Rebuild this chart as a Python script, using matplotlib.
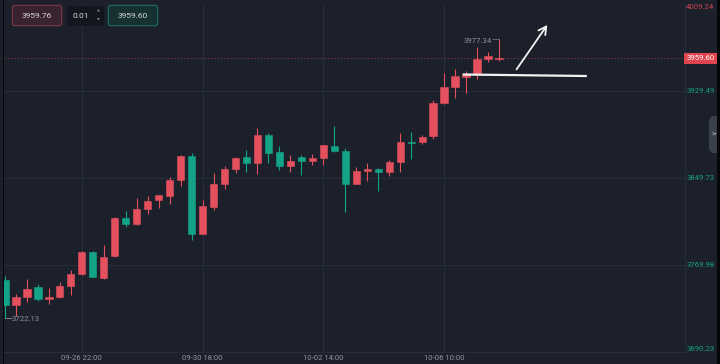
import matplotlib
matplotlib.use("Agg")
import matplotlib.pyplot as plt
from matplotlib.patches import Rectangle, FancyBboxPatch, Polygon
from matplotlib.transforms import blended_transform_factory

plt.rcParams['font.family'] = ['Roboto', 'DejaVu Sans']

# ---------------- data (4H candles) ----------------
opens = [3756.5, 3733.3, 3741.2, 3750.3, 3739.1, 3741.2, 3751.0, 3761.7, 3782.4, 3758.0,
         3778.2, 3813.6, 3807.5, 3821.6, 3829.8, 3833.5, 3848.2, 3870.2, 3798.9, 3823.1,
         3844.5, 3858.5, 3869.5, 3863.5, 3889.4, 3873.6, 3861.0, 3869.0, 3865.6, 3868.3,
         3879.6, 3875.0, 3844.5, 3856.4, 3858.5, 3855.2, 3864.9, 3883.3, 3882.7, 3888.8,
         3918.5, 3933.1, 3942.9, 3945.0, 3959.1, 3958.7]
highs = [3760.4, 3743.4, 3757.4, 3752.8, 3748.9, 3754.9, 3765.6, 3783.0, 3783.0, 3788.6,
         3814.5, 3820.0, 3831.4, 3833.5, 3834.6, 3851.2, 3870.8, 3872.6, 3829.8, 3854.9,
         3861.0, 3869.0, 3875.7, 3895.6, 3891.0, 3879.3, 3871.1, 3870.8, 3872.0, 3880.3,
         3897.6, 3877.2, 3859.8, 3864.0, 3858.8, 3866.5, 3891.0, 3892.2, 3889.1, 3921.5,
         3946.0, 3950.2, 3948.1, 3970.4, 3965.8, 3977.34]
lows = [3722.13, 3723.5, 3736.3, 3737.5, 3734.2, 3739.7, 3742.4, 3761.0, 3759.0, 3757.1,
        3777.5, 3805.3, 3806.6, 3816.7, 3822.7, 3825.9, 3842.9, 3793.1, 3798.3, 3820.6,
        3839.9, 3854.9, 3855.8, 3853.7, 3864.0, 3857.3, 3855.2, 3853.0, 3861.9, 3861.9,
        3874.1, 3819.1, 3844.2, 3847.5, 3838.3, 3851.8, 3855.5, 3867.1, 3880.9, 3885.5,
        3918.2, 3923.1, 3927.6, 3941.0, 3956.6, 3957.5]
closes = [3733.3, 3741.2, 3748.5, 3738.8, 3741.2, 3751.0, 3761.7, 3782.4, 3759.5, 3777.8,
          3813.6, 3807.5, 3821.6, 3828.9, 3834.1, 3848.2, 3870.2, 3798.9, 3824.3, 3844.5,
          3858.5, 3868.6, 3863.5, 3889.4, 3873.2, 3861.0, 3865.9, 3865.3, 3868.1, 3880.0,
          3874.8, 3844.5, 3856.4, 3858.5, 3855.2, 3864.9, 3883.3, 3881.8, 3887.3, 3918.5,
          3933.1, 3943.5, 3945.0, 3958.8, 3961.8, 3959.60]

xtick_pos = [7, 18, 29, 40]
xtick_labels = ['09-26 22:00', '09-30 18:00', '10-02 14:00', '10-06 10:00']
ytick_vals = [3690.23, 3769.98, 3849.73, 3929.49, 4009.24]
ytick_labels = ['3690.23', '3769.98', '3849.73', '3929.49', '4009.24']
last_price = 3959.60
sell_price, buy_price, lot = '3959.76', '3959.60', '0.01'
high_idx, high_val = 45, 3977.34
low_idx, low_val = 0, 3722.13
# hand-drawn annotations (index, price)
hline_x, hline_y = [41.7, 53.0], [3944.9, 3943.5]
arrow_from, arrow_to = (46.6, 3949.6), (49.4, 3990.3)

# ---------------- style ----------------
BG = '#1b202b'
GRID = '#272d3a'
UP = '#e4505d'
DOWN = '#13a487'
TXT = '#8f949e'

W, H = 720, 364
fig = plt.figure(figsize=(W / 100, H / 100), dpi=100, facecolor=BG)
ax = fig.add_axes([4 / W, (H - 352.3) / H, 680.5 / W, 348 / H], facecolor=BG)
ax.set_xlim(-0.09, 61.9)
ax.set_ylim(3690.23, 4009.24)

for v in ytick_vals[1:4]:
    ax.axhline(v, color=GRID, lw=0.7, zorder=0)
for p in xtick_pos:
    ax.axvline(p, color=GRID, lw=0.7, zorder=0)

for i, (o, h, l, c) in enumerate(zip(opens, highs, lows, closes)):
    col = UP if c >= o else DOWN
    ax.vlines(i, l, h, color=col, lw=0.8, zorder=2)
    ax.bar(i, abs(c - o), bottom=min(o, c), width=0.66, color=col,
           edgecolor=col, lw=0.4, zorder=3)

ax.axhline(last_price, color='#8a3d48', ls=(0, (1, 2)), lw=0.8, zorder=1)

# high / low markers
ax.plot([high_idx, high_idx - 0.62], [high_val, high_val], color=TXT, lw=0.6, ls=(0, (2, 1)), zorder=4)
ax.text(high_idx - 0.66, high_val - 1.5, f'{high_val:.2f}', color=TXT, fontsize=5.6,
        ha='right', va='center', zorder=5)
ax.plot([low_idx, low_idx + 0.55], [low_val, low_val], color=TXT, lw=0.6, zorder=4)
ax.text(low_idx + 0.64, low_val - 1.8, f'{low_val:.2f}', color=TXT, fontsize=5.6,
        ha='left', va='center', zorder=5)

# white drawings
ax.plot(hline_x, hline_y, color='#f2f2f2', lw=1.6, solid_capstyle='butt', zorder=6)
ax.annotate('', xy=arrow_to, xytext=arrow_from,
            arrowprops=dict(arrowstyle='->,head_length=0.55,head_width=0.3',
                            color='#f2f2f2', lw=1.3, shrinkA=0, shrinkB=0), zorder=6)

# axes
ax.set_xticks(xtick_pos, xtick_labels)
ax.set_yticks([])
ax.tick_params(axis='x', length=0, pad=2.2, labelsize=5.6, labelcolor=TXT)
for s in ['top', 'left']:
    ax.spines[s].set_visible(False)
for s in ['right', 'bottom']:
    ax.spines[s].set_color(GRID)
    ax.spines[s].set_linewidth(0.8)

bt = blended_transform_factory(ax.transAxes, ax.transData)
for v, lab in zip(ytick_vals, ytick_labels):
    if v == ytick_vals[-1]:
        va, col = 'top', '#c9434f'
    elif v == ytick_vals[0]:
        va, col = 'bottom', '#17a083'
    else:
        va, col = 'center', '#17a083'
    ax.text(1.0025, v, lab, transform=bt, color=col, fontsize=5.6, ha='left', va=va, clip_on=False)

ax.text(1.0025, last_price, f'{last_price:.2f}', transform=bt, color='white', fontsize=5.6,
        ha='left', va='center', clip_on=False, zorder=8,
        bbox=dict(boxstyle='square,pad=0.3', fc='#e0444f', ec='none'))

# ---------------- UI overlay (pixel coords) ----------------
ov = fig.add_axes([0, 0, 1, 1], facecolor='none', zorder=10)
ov.set_xlim(0, W)
ov.set_ylim(H, 0)
ov.axis('off')

ov.add_patch(Rectangle((2.5, 0), 1.5, H, fc='#07080b', ec='none'))
ov.add_patch(Rectangle((716.5, 0), 3.5, H, fc='#060709', ec='none'))
ov.add_patch(Polygon([(717, 116), (712, 116), (709, 120), (709, 149), (712, 153), (717, 153)],
                     closed=True, fc='#3a404c', ec='none'))
ov.text(713.3, 134.5, '>', color='#c3c7ce', fontsize=6, ha='center', va='center')

ov.add_patch(FancyBboxPatch((12.3, 5.3), 49.4, 20.4, boxstyle='round,pad=0,rounding_size=2.5',
                            fc='#3a2330', ec='#7a3844', lw=0.8))
ov.text(37, 15.7, sell_price, color='#d6d8dd', fontsize=6, ha='center', va='center')
ov.add_patch(Rectangle((66.7, 5.5), 37, 20, fc='#12161f', ec='none'))
ov.text(80.5, 15.7, lot, color='#d6d8dd', fontsize=6, ha='center', va='center')
ov.text(98.5, 11, '▲', color='#8f949e', fontsize=2.5, ha='center', va='center', family='DejaVu Sans')
ov.text(98.5, 20, '▼', color='#8f949e', fontsize=2.5, ha='center', va='center', family='DejaVu Sans')
ov.add_patch(FancyBboxPatch((108.3, 5.3), 49.4, 20.4, boxstyle='round,pad=0,rounding_size=2.5',
                            fc='#173133', ec='#1f6e60', lw=0.8))
ov.text(133, 15.7, buy_price, color='#d6d8dd', fontsize=6, ha='center', va='center')

fig.savefig('out.png', dpi=100, facecolor=BG)
